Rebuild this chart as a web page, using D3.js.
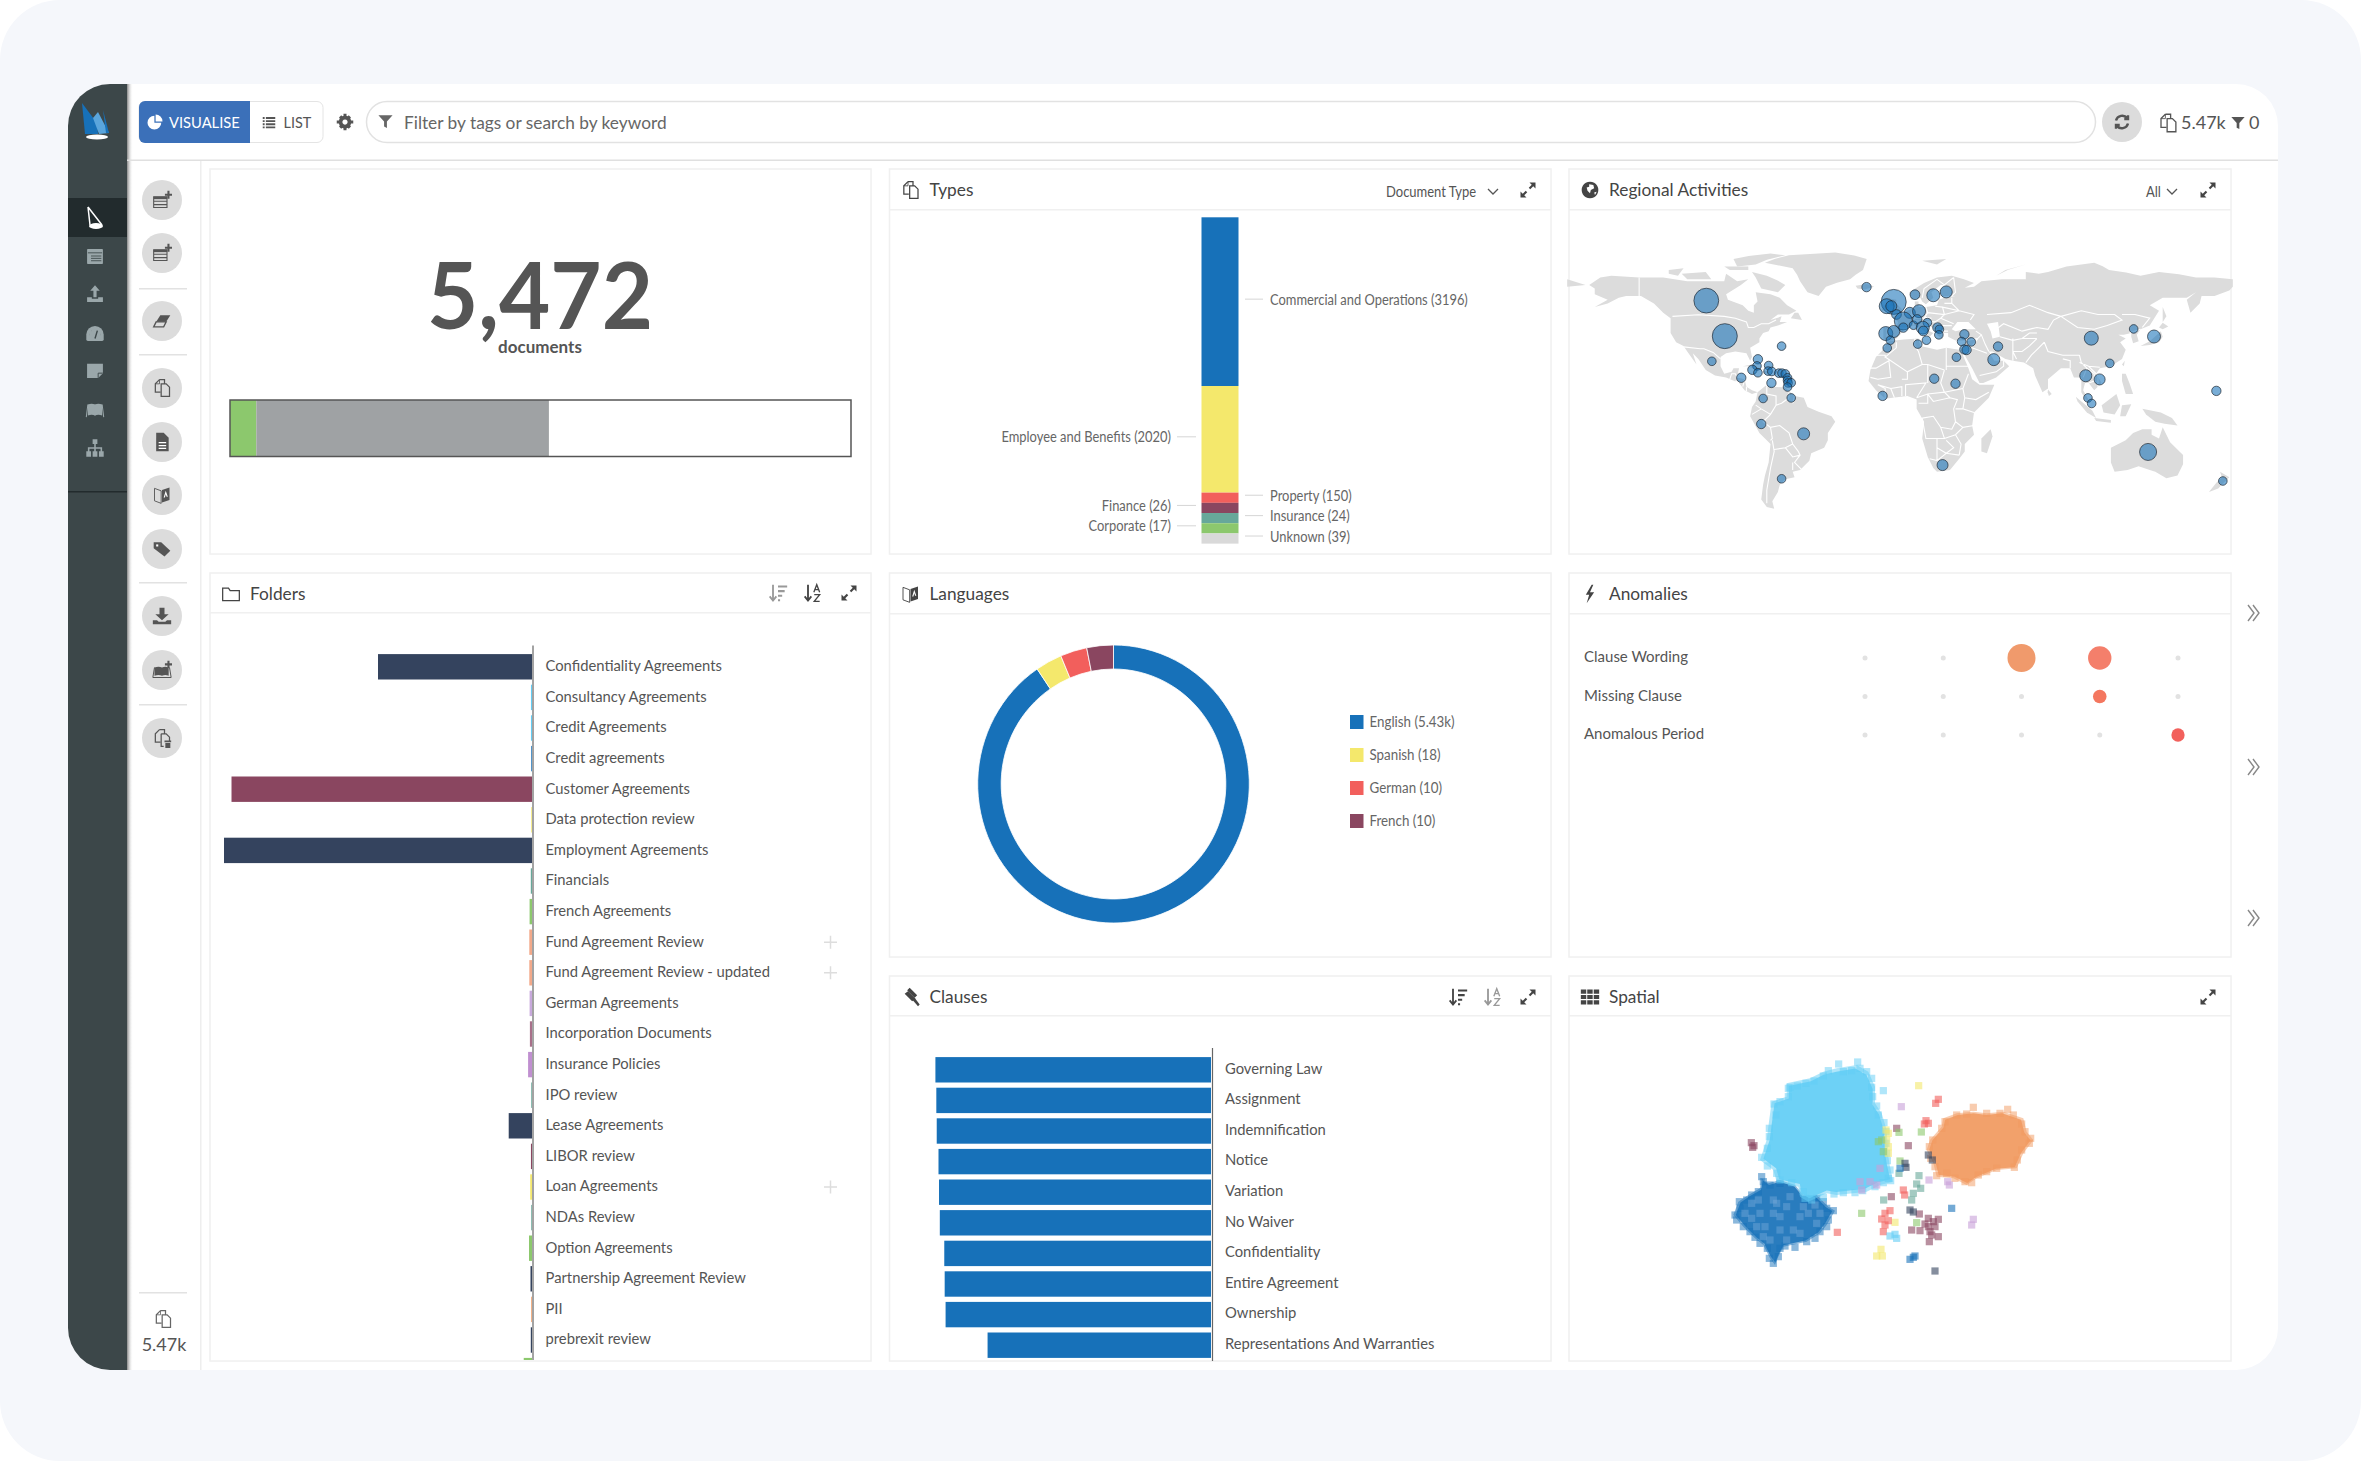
<!DOCTYPE html>
<html lang="en">
<head>
<meta charset="utf-8">
<title>Document dashboard</title>
<script src="https://d3js.org/d3.v7.min.js"></script>
<style>
body { margin: 0; background: #fff; }
text { font-family: Lato, sans-serif; }
</style>
</head>
<body>
<script>
// ---- data ----
var progressValues = [232, 2578];
var progressColors = ["#8cc86d", "#9fa2a4"];

var typeNames = ["Commercial and Operations", "Employee and Benefits", "Property", "Finance", "Insurance", "Corporate", "Unknown"];
var typeCounts = [3196, 2020, 150, 26, 24, 17, 39];
var typeColors = ["#1771b9", "#f4e86c", "#f25f5c", "#8a4660", "#67a89a", "#8cc86d", "#d9d9d9"];
var typeSides = ["right", "left", "right", "left", "right", "left", "right"];

var folderNames = ["Confidentiality Agreements", "Consultancy Agreements", "Credit Agreements", "Credit agreements",
  "Customer Agreements", "Data protection review", "Employment Agreements", "Financials", "French Agreements",
  "Fund Agreement Review", "Fund Agreement Review - updated", "German Agreements", "Incorporation Documents",
  "Insurance Policies", "IPO review", "Lease Agreements", "LIBOR review", "Loan Agreements", "NDAs Review",
  "Option Agreements", "Partnership Agreement Review", "PII", "prebrexit review", ""];
var folderCounts = [1025, 7, 7, 5, 2000, 5, 2050, 8, 16, 18, 18, 16, 14, 26, 5, 155, 7, 12, 5, 20, 10, 5, 8, 55];
var folderColors = ["#34435e", "#62cdf5", "#62cdf5", "#1771b9", "#8a4660", "#f4e86c", "#34435e", "#67a89a", "#8cc86d",
  "#f2a98a", "#f2a98a", "#c8a9dc", "#a8708a", "#c08fd0", "#67a89a", "#34435e", "#8a4660", "#f4e86c", "#67a89a",
  "#8cc86d", "#34435e", "#f1995f", "#34435e", "#8cc86d"];
var folderPlus = ["Fund Agreement Review", "Fund Agreement Review - updated", "Loan Agreements"];

var languageNames = ["English", "Spanish", "German", "French"];
var languageCounts = [5430, 18, 10, 10];
var languageLabels = ["5.43k", "18", "10", "10"];
var languageColors = ["#1771b9", "#f4e86c", "#f25f5c", "#8a4660"];

var anomalyNames = ["Clause Wording", "Missing Clause", "Anomalous Period"];
var anomalyColumns = [0, 1, 2, 3, 4];
var anomalyCounts = [
  [0, 0, 100, 64, 0],
  [0, 0, 0, 14, 0],
  [0, 0, 0, 0, 13]
];
var anomalyColors = [
  ["#e2e2e2", "#e2e2e2", "#f09a6c", "#f47f6b", "#e2e2e2"],
  ["#e2e2e2", "#e2e2e2", "#e2e2e2", "#f4775f", "#e2e2e2"],
  ["#e2e2e2", "#e2e2e2", "#e2e2e2", "#e2e2e2", "#f2605c"]
];

var clauseNames = ["Governing Law", "Assignment", "Indemnification", "Notice", "Variation", "No Waiver", "Confidentiality",
  "Entire Agreement", "Ownership", "Representations And Warranties"];
var clauseCounts = [4818, 4802, 4795, 4764, 4755, 4741, 4663, 4656, 4640, 3906];

// map bubbles: lon, lat, documents
var bubbleLon = [-104.7, -94.7, -18.1, -3.4, -7.2, -4.7, 8.1, 18, 25, -1.9, 5.3, 10.3, 1.8, 1.8, 7.3, 9.3, 14.8, 12.3, 12.6, -7.7,
  -3.4, -5.2, -6.9, 9.6, 14.3, 20.3, 21.3, 21, 34.8, 33.3, 38.5, 34.8, 36, 30.5, 53, 50.7, 18.5, 30, -9.4, -101.7, -64,
  -76.8, -77.3, -79.8, -76.8, -71, -71.3, -69.3, -65.5, -63.8, -62, -60.8, -60.8, -60.5, -58.8, -60.8, -85.8, -69.5,
  -74, -58.8, -75, -52.1, -64, 23, 103.4, 126.3, 137.3, 113.4, 100.4, 107.9, 101.6, 103.6, 171, 134.1, 174.5];
var bubbleLat = [57.5, 38.3, 64.8, 56.8, 54.5, 54.5, 60.7, 60.4, 62.2, 50, 50.9, 51.8, 46.5, 42.9, 44.2, 47.4, 45.6, 42.9, 41.1, 39.7,
  40.8, 36.1, 31.9, 34, 36.1, 42.9, 42, 39, 39.3, 35.4, 35.2, 31.1, 30.8, 26.9, 32.7, 25.6, 15.3, 12.6, 6, 24.7, 32.9,
  25.8, 22.2, 20.1, 18.5, 22.4, 19.4, 19.2, 18.3, 18.3, 17.9, 15.8, 14.4, 13, 13.1, 10.8, 15.8, 13,
  4.6, 4.9, -9.2, -14.5, -38.8, -31.4, 37.2, 42.2, 38.1, 23.6, 16.9, 14.9, 4.9, 1.9, 8.7, -24.3, -40];
var bubbleDocs = [910, 925, 130, 925, 330, 180, 140, 250, 215, 140, 180, 250, 480, 130, 110, 130, 110, 250, 140, 290,
  215, 110, 110, 110, 110, 140, 110, 110, 130, 110, 110, 130, 130, 110, 130, 215, 130, 130, 130, 110, 110,
  130, 110, 130, 110, 110, 110, 110, 110, 110, 110, 110, 110, 110, 110, 110, 130, 130,
  110, 110, 130, 215, 110, 180, 290, 110, 250, 110, 215, 180, 110, 110, 130, 430, 110];

// rough coastlines, lon/lat
var landRings = [
  [[-168,66],[-162,70],[-156,71],[-141,70],[-128,70],[-115,68],[-108,68],[-95,68],[-94,72],[-88,68],[-82,69],[-86,66],[-94,61],[-93,58],[-85,55],[-82,52],[-79,51],[-79,55],[-77,57],[-78,62],[-70,61],[-65,59],[-61,55],[-56,52],[-60,50],[-66,50],[-70,47],[-64,49],[-65,46],[-61,46],[-66,44],[-70,43],[-71,41],[-74,40],[-76,37],[-76,35],[-81,32],[-80,27],[-81,25],[-83,29],[-89,30],[-94,29],[-97,27],[-97,22],[-95,18],[-91,19],[-90,21],[-87,21],[-88,16],[-84,15],[-83,11],[-80,9],[-77,8],[-80,7],[-84,9],[-87,13],[-94,16],[-100,17],[-105,20],[-109,26],[-112,29],[-110,23],[-115,30],[-117,33],[-121,35],[-124,40],[-124,48],[-128,51],[-133,56],[-140,60],[-148,60],[-152,59],[-158,56],[-165,54],[-158,58],[-165,61],[-165,64],[-168,66]],
  [[-80,73],[-72,71],[-62,66],[-66,62],[-75,64],[-78,70]],
  [[-118,72],[-105,73],[-102,69],[-115,69]],
  [[-90,80],[-70,83],[-62,82],[-78,77],[-88,76]],
  [[-125,74],[-117,75],[-120,71],[-125,72]],
  [[-95,76],[-82,76],[-82,74],[-92,74]],
  [[-59,48],[-53,47],[-55,51],[-57,51]],
  [[-73,78],[-60,82],[-35,83.5],[-18,80],[-20,74],[-27,69],[-40,65],[-44,60],[-50,62],[-54,68],[-58,75]],
  [[-24,65.5],[-18,66.5],[-14,65],[-19,63.5],[-23,64]],
  [[-85,22],[-80,23],[-74,20],[-78,20],[-82,22]],
  [[-74,19.5],[-69,19.5],[-69,18.3],[-74,18]],
  [[-77,8],[-72,12],[-68,11],[-62,10.5],[-57,6],[-52,5],[-50,0],[-44,-2.5],[-37,-5],[-35,-8],[-39,-14],[-39,-18],[-41,-22],[-48,-25],[-49,-29],[-54,-34],[-58,-35],[-57,-38],[-62,-39],[-65,-42],[-66,-46],[-69,-51],[-68,-55],[-72,-54],[-75,-50],[-74,-42],[-73,-37],[-71,-30],[-70,-20],[-76,-14],[-81,-5],[-80,0],[-78,3]],
  [[-6,35.5],[10,37],[11,33],[20,31],[25,32],[32,31],[34,28],[37,21],[39,15],[43,12],[51,12],[48,5],[40,-3],[39,-10],[40,-15],[35,-20],[35,-24],[32,-28],[27,-34],[20,-35],[18,-33],[15,-27],[12,-17],[13,-8],[9,-1],[9,4],[4,6],[-4,5],[-8,4.5],[-13,9],[-17,14],[-16,20],[-13,27],[-10,30]],
  [[49,-12],[50,-16],[47,-25],[44,-24],[44,-17]],
  [[-9,37],[-9,43],[-2,43.5],[-1,46],[-4,48.5],[2,51],[6,53],[8,54],[8,57],[10,57],[10,54],[14,54],[20,55],[21,58],[24,59],[30,60],[23,60],[21,63],[25,66],[22,66],[17,62],[18,59],[14,55.5],[12,57],[11,59],[6,58],[5,62],[13,67],[20,70],[28,71],[40,67],[35,64.5],[40,65],[44,68],[55,69],[68,69],[68,73],[75,72],[80,73],[90,76],[105,78],[113,74],[130,71],[140,73],[160,70],[170,70],[179.9,69],[179.9,65],[178,63],[170,60],[163,60],[162,56],[157,51],[155,58],[160,62],[155,59],[142,59],[135,55],[140,52],[135,44],[130,42],[128,39],[129,35.5],[126,34.5],[125,38],[125,40],[121,39],[118,39],[122,37],[119,35],[122,31],[120,26],[114,22],[108,21],[106,18],[109,13],[105,9],[102,13],[100,13],[99,9],[103,2],[101,3],[98,8],[98,16],[94,16],[92,21],[87,21],[80,15],[80,10],[77,8],[73,17],[72,21],[67,24],[61,25],[57,26],[50,30],[48,30],[51,25],[56,25],[59,22],[52,16],[45,13],[43,13],[39,21],[35,28],[34,31],[36,36],[30,36],[26,38],[26,40],[23,40],[23,36.5],[20,39],[19,42],[14,45],[12,44],[16,41],[18,40],[16,38],[12,42],[8,44],[3,43],[0,39],[-2,37],[-5,36]],
  [[-179.9,69],[-170,66],[-179.9,65]],
  [[95,5.5],[104,-2],[106,-6],[101,-3],[96,3]],
  [[109,1],[117,7],[119,1],[116,-4],[110,-3]],
  [[105,-6],[114,-7],[114,-8.5],[106,-7.5]],
  [[119,-5],[120,1],[125,1.5],[122,-5]],
  [[131,-1],[141,-3],[147,-6],[150,-10],[143,-9],[138,-8],[133,-4]],
  [[120,18],[122,18],[124,13],[126,7],[122,7],[120,14]],
  [[80,9.5],[82,7],[80.5,6],[79.8,8]],
  [[130,33],[135,35.5],[140,40],[141,41],[142,38],[140,35],[135,33.5]],
  [[140,43],[142,45.5],[145,43.5],[142,42]],
  [[142,54],[144,49],[142,46],[142,50]],
  [[120,23],[121.5,25],[121,22]],
  [[-5,50],[1,51],[1,53],[-2,56],[-2,58],[-5,58.5],[-5,55],[-3,54],[-5,52]],
  [[-10,52],[-6,52],[-6,55],[-9,55]],
  [[12,79],[25,80],[20,77]],
  [[52,71],[68,77],[57,74]],
  [[114,-22],[122,-18],[126,-14],[131,-12],[136,-12],[136,-15],[140,-17],[142,-11],[146,-19],[153,-26],[153,-31],[150,-37],[144,-38.5],[138,-35],[135,-34],[129,-32],[123,-34],[116,-35],[114,-30]],
  [[173,-35],[178,-38],[175,-41],[172,-44],[167,-46],[171,-41],[174,-38]]
];
var waterRings = [
  [[28,42],[31,46],[37,46],[41,42],[35,42],[30,41]],
  [[47,45],[53,46],[54,38],[50,37],[49,41]]
];
var borderLines = [
  [[-123,49],[-95,49],[-89,48],[-83,46],[-82,43],[-79,43],[-75,45],[-71,45],[-67,47]], [[-141,70],[-141,60]],
  [[-117,32.5],[-108,31.5],[-106,31.5],[-101,29.5],[-97,26]], [[-92,15],[-91,18],[-89,18],[-88,16]], [[-89,14],[-87,13]], [[-84,15],[-85,11]], [[-83,8.5],[-83,11]],
  [[-72,12],[-72,7],[-67,6],[-67,1]], [[-60,8],[-60,5]], [[-57,6],[-58,2]],
  [[-60,5],[-64,2],[-67,1],[-70,-4],[-74,-8],[-70,-11],[-65,-10],[-60,-14],[-58,-20],[-55,-24],[-54,-26],[-57,-30],[-53,-34]],
  [[-78,1],[-75,-1],[-70,-4]], [[-80,-4],[-75,-1]], [[-70,-11],[-69,-17],[-70,-18]], [[-69,-18],[-68,-24],[-70,-33],[-72,-45],[-72,-52]],
  [[-68,-23],[-62,-22],[-58,-20]], [[-62,-22],[-58,-27],[-54,-26]], [[-58,-34],[-58,-30]],
  [[-13,28],[-8,28],[-8,27],[-2,32],[-2,35]], [[8,37],[8,33],[10,30],[12,23]], [[25,32],[25,20]], [[25,22],[37,22]],
  [[-17,21],[-13,21],[-6,25],[-5,16],[-12,15],[-16,16]], [[-8,27],[4,19],[12,23]], [[4,19],[4,15],[1,15]], [[15,23],[15,13]], [[24,20],[22,13],[24,8]],
  [[12,23],[15,23],[24,20]], [[3,6],[3,12],[14,13],[9,5]], [[-8,4.5],[-8,10],[-12,12],[-5,10],[-3,5]], [[1,6],[1,11],[-5,10]],
  [[37,18],[34,10],[35,5],[41,4],[48,8]], [[24,8],[34,10]], [[15,7],[24,8],[27,5],[18,3],[15,7]], [[9,5],[15,7],[15,2],[10,2]],
  [[12,-6],[18,-5],[22,-11],[28,-12],[30,-8],[29,-1],[31,4],[27,5]], [[35,5],[34,-1],[40,-3]], [[30,-8],[34,-11],[40,-10]], [[34,-1],[30,-1]],
  [[12,-6],[14,-17],[24,-17],[22,-11]], [[20,-17],[20,-29],[16,-28]], [[20,-22],[25,-25],[29,-22],[25,-18]], [[24,-17],[30,-15],[34,-11]],
  [[30,-15],[33,-20],[32,-26]], [[20,-29],[25,-25],[32,-26]],
  [[-2,43],[3,42.5]], [[-7,37],[-7,42]], [[2,51],[8,49],[7,44]], [[7,54],[6,50],[8,48],[13,48],[15,51],[14,54]], [[15,51],[24,50],[23,54],[19,54.5]],
  [[7,44],[8,46.5],[13,46.5]], [[13,48.5],[17,48]], [[13,46],[19,46],[22,44],[28,44]], [[19,46],[22,48],[24,50]], [[24,50],[32,52],[40,50],[38,47]],
  [[22,48],[29,45]], [[24,56],[28,56],[28,59]], [[23,54],[32,52]], [[12,59],[13,64],[20,69]], [[20,69],[24,66],[29,70]], [[29,70],[30,62],[28,60]],
  [[26,41],[22,41],[19,42]], [[28,56],[32,52]],
  [[36,36],[42,37],[44,39],[41,41]], [[36,33],[39,33],[42,37]], [[44,39],[46,34],[48,30]], [[35,29],[39,32],[47,29]], [[43,17],[52,19],[56,22],[56,25]],
  [[61,37],[61,25]], [[54,38],[61,36],[66,37],[74,37]], [[61,30],[66,30],[70,33],[74,37]], [[61,30],[63,26]], [[68,24],[71,28],[75,32],[78,35]],
  [[78,35],[80,30],[88,28],[97,28]], [[88,26],[92,25],[92,21]], [[97,28],[98,24],[101,21],[99,16]], [[101,21],[105,18],[105,14],[102,13]],
  [[102,22],[107,17],[107,11]], [[97,24],[102,22],[108,21.5]], [[47,50],[60,51],[70,55],[80,51],[87,49]], [[52,42],[56,45],[66,41],[74,43],[80,42],[83,47],[87,49]],
  [[87,49],[98,52],[107,50],[116,50],[120,47],[112,44],[105,42],[96,43],[87,49]], [[120,50],[127,50],[135,48],[131,43]], [[124,40],[130,42]], [[66,37],[70,40],[74,40]]
];

// spatial clusters. a hull for the dense middle and the squares around it
var darkHull = [[160,645],[175,605],[205,585],[240,565],[245,535],[265,550],[300,540],[345,555],[370,585],[410,585],[445,620],[465,632],[440,675],[420,700],[380,725],[310,740],[295,770],[285,795],[270,775],[250,735],[225,715],[190,680]];
var darkEdge = [[165,645],[180,625],[178,605],[200,600],[215,585],[235,575],[250,545],[245,530],[270,555],[300,550],[375,600],[410,595],[430,605],[440,625],[460,632],[445,660],[440,680],[420,695],[405,715],[380,725],[345,742],[315,738],[300,745],[295,770],[280,790],[268,775],[262,745],[240,730],[225,712],[210,695],[190,680],[170,660]];
var darkSpeck = [[215,610],[240,640],[280,600],[320,620],[255,680],[300,690],[340,690],[385,640],[215,655],[280,640],[330,590],[405,615],[270,720],[360,650],[195,640],[235,600],[300,650],[360,700],[410,670],[250,710],[320,720],[420,640],[230,680],[290,610],[370,620]];
var lightHull = [[320,250],[390,235],[430,215],[470,205],[530,195],[565,215],[585,260],[585,310],[605,340],[620,390],[625,470],[630,500],[640,545],[600,555],[560,575],[470,585],[440,580],[385,605],[360,590],[355,560],[290,545],[280,510],[240,480],[260,420],[265,380],[275,305],[320,290]];
var lightEdge = [[330,262],[352,258],[378,250],[402,243],[430,228],[445,212],[476,192],[490,215],[515,212],[533,186],[540,205],[560,215],[575,235],[575,262],[578,290],[590,318],[595,345],[612,368],[618,395],[618,430],[620,460],[622,482],[630,510],[632,542],[610,548],[585,560],[548,572],[525,578],[490,578],[462,582],[430,592],[395,600],[375,595],[370,575],[335,548],[300,540],[290,520],[262,498],[245,472],[262,445],[268,410],[268,385],[288,345],[282,312],[300,305],[325,290],[325,265],[610,272]];
var orangeHull = [[750,420],[785,380],[790,355],[830,340],[880,335],[920,340],[970,335],[1030,355],[1040,395],[1060,420],[1030,460],[1010,505],[950,510],[890,535],[860,555],[820,535],[770,530],[760,490],[740,450]];
var orangeEdge = [[770,527],[800,520],[825,535],[855,545],[875,548],[895,525],[920,515],[950,505],[1003,502],[1012,480],[1025,450],[1048,430],[1052,415],[1035,395],[1025,372],[1000,345],[983,328],[960,340],[920,340],[880,322],[860,342],[830,345],[795,365],[785,385],[758,420],[748,440],[752,475],[765,500]];
var spatialGroups = [
  ["#8a4660", [[214,428],[222,437],[218,442],[650,385],[685,437],[634,590],[745,655],[775,658],[760,665],[745,680],[765,680],[695,690],[720,692],[750,695],[775,710],[748,725],[755,705],[735,672],[718,642]]],
  ["#f4e86c", [[716,257],[618,390],[625,400],[620,420],[625,440],[625,460],[603,748],[590,768],[607,768],[645,667]]],
  ["#f25f5c", [[775,298],[767,310],[738,362],[745,370],[733,372],[670,570],[674,585],[615,640],[630,632],[605,657],[625,662],[615,675],[610,695],[472,697]]],
  ["#c8a0d8", [[664,320],[747,540],[803,545],[808,555],[880,658],[875,675],[570,545],[590,555],[545,570],[600,505],[540,545]]],
  ["#8cc86d", [[657,397],[724,396],[660,483],[545,640],[710,668],[605,420],[595,425],[610,455]]],
  ["#67a89a", [[717,527],[710,552],[722,565],[700,580],[695,600],[611,600],[657,520]]],
  ["#34435e", [[745,465],[757,480],[675,490],[678,502],[690,630],[700,636],[765,813]]],
  ["#1771b9", [[660,505],[815,625],[700,772],[690,778],[705,768]]],
  ["#62cdf5", [[625,535],[630,708],[650,715],[645,703]]]
];

// ---- little helpers ----
var svg = d3.select("body").append("svg").attr("width", 2361).attr("height", 1461).style("display", "block");
var defs = svg.append("defs");
var shadow = defs.append("linearGradient").attr("id", "sideShadow");
shadow.append("stop").attr("offset", 0).attr("stop-color", "#888");
shadow.append("stop").attr("offset", 1).attr("stop-color", "#fff").attr("stop-opacity", 0);

// the text in the picture is a bit narrower than Lato, so squeeze it horizontally
function squeeze(sel, ratio) {
  sel.each(function() {
    d3.select(this).attr("textLength", this.getComputedTextLength() * ratio).attr("lengthAdjust", "spacingAndGlyphs");
  });
  return sel;
}

function txt(g, x, y, s, size, color, anchor, weight) {
  return g.append("text").attr("x", x).attr("y", y).attr("dy", "0.35em").text(s)
    .attr("font-size", size).attr("fill", color).attr("text-anchor", anchor || "start").attr("font-weight", weight || 400);
}

// icons on a 24x24 box. f = filled, s = stroked, w = white fill
var icons = {
  expand: [{f: "M14 2h8v8l-3-3-4 4-2-2 4-4z"}, {f: "M10 22H2v-8l3 3 4-4 2 2-4 4z"}],
  funnel: [{f: "M2 3h20l-8 9v9l-4-2v-7z"}],
  refresh: [{s: "M4 10a8.5 8.5 0 0 1 15-3M20 3v5h-5M20 14a8.5 8.5 0 0 1-15 3M4 21v-5h5", sw: 3.2}],
  gear: [{s: "M12 6a6 6 0 1 0 .01 0z", sw: 5}, {f: "M10 1h4v4h-4zM10 19h4v4h-4zM1 10h4v4H1zM19 10h4v4h-4zM4 6l3-3 3 3-3 3zM14 18l3-3 3 3-3 3zM4 18l3-3 3 3-3 3zM14 6l3-3 3 3-3 3z"}],
  docPlus: [{s: "M2 8h16v13H2zM2 13.5h16M2 17.5h16", sw: 1.3}, {f: "M2 8h16v3H2z"}, {f: "M18.5 1h2.5v3.5h3V7h-3v3.5h-2.5V7h-3V4.5h3z"}],
  eraser: [{f: "M10 5h12l-5 8H5z"}, {s: "M5 13h12l-3 6H2zM5 13l-3 6", sw: 1.6}],
  copies: [{s: "M9 2h6v5M9 2L4 7v10h6M11 7h6l4 4v11H11z", sw: 1.5}, {s: "M9 2v5H4", sw: 1}],
  file: [{f: "M5 1h9l6 6v16H5z"}, {w: "M8 12h9v1.5H8zM8 15.5h9V17H8zM8 19h9v1.5H8z"}],
  translate: [{s: "M3 4l8 3v15l-8-3z", sw: 1.1}, {f: "M12 6l9-3v15l-9 3z"}, {w: "M14 15l2.5-8 2.5 7h-1.5l-1-3-1 4z"}],
  tags: [{f: "M2 4h9l11 10-7 7L2 11z"}, {w: "M5 6.5h2.5V9H5z"}],
  download: [{f: "M9 2h6v8h5l-8 7-8-7h5zM1 17h5l2 2h8l2-2h5v5H1z"}],
  bookPlus: [{f: "M3 9q5-2 9 0q4-2 8 0v10q-4-2-8 0q-4-2-9 0z"}, {s: "M1 21l2-12M23 21l-2-12M1 21h22", sw: 1.2}, {f: "M18.5 1h2.5v3h3v2.5h-3v3h-2.5v-3h-3V4h3z"}],
  copiesBin: [{s: "M9 2h6v5M9 2L4 7v10h6M11 7h6l4 4v5M11 7v15h3", sw: 1.5}, {f: "M15 15h8v2h-8zM16 18h6v6h-6z"}],
  folder: [{s: "M2 5h7l2 3h11v12H2z", sw: 1.5}],
  globe: [{f: "M12 2a10 10 0 1 0 .01 0z"}, {w: "M11 5l5 1 1 4-4 2-1 4-3-3-1-4 3-1zM17 15l3-1-2 4z"}],
  bolt: [{f: "M14 1L7 13h4L8 23l9-13h-5l4-9z"}],
  gavel: [{f: "M11 1l9 9-3 3-9-9zM9 5l9 9-4 3-9-9z"}, {f: "M14 15l3-2 6 8-2 2z"}],
  grid: [{f: "M1 3h6.5v5H1zM8.7 3h6.5v5H8.7zM16.5 3H23v5h-6.5zM1 9.5h6.5v5H1zM8.7 9.5h6.5v5H8.7zM16.5 9.5H23v5h-6.5zM1 16h6.5v5H1zM8.7 16h6.5v5H8.7zM16.5 16H23v5h-6.5z"}],
  sortNum: [{s: "M6 2v18M2 16l4 5 4-5", sw: 2.2}, {f: "M12 3h11v2.5H12zM12 8.5h8V11h-8zM12 14h5v2.5h-5zM12 19.5h2.5V22H12z"}],
  sortAz: [{s: "M6 2v18M2 16l4 5 4-5", sw: 2.2}, {s: "M13 11l3.5-9 3.5 9M14 8h5M13.5 14H20l-6.5 8H20", sw: 1.6}],
  lines: [{f: "M2 4h3v3H2zM7 4h15v3H7zM2 9h3v3H2zM7 9h15v3H7zM2 14h3v3H2zM7 14h15v3H7zM2 19h3v3H2zM7 19h15v3H7z"}],
  pie: [{f: "M11 2v11h11A11 11 0 1 1 11 2zM13 0a11 11 0 0 1 11 11H13z"}],
  panel: [{f: "M2 4q0-1 1-1h18q1 0 1 1v17q0 1-1 1H3q-1 0-1-1z"}, {s: "M3 8h18M7 12h13M7 15h13M7 18h13", sw: 1.1, c: "#3c4749"}],
  upload: [{f: "M12 1l6 7h-4v8h-4V8H6zM2 16h6v2h8v-2h6v6H2z"}],
  gauge: [{f: "M1 14a11 11 0 1 1 22 0v6q0 2-2 2H3q-2 0-2-2z"}, {s: "M12 19l3-10M5 14h.1M8 9h.1M19 14h.1", sw: 1.8, c: "#3c4749"}],
  note: [{f: "M2 4h20v12l-6 6H2z"}, {s: "M16 22v-6h6", sw: 1.2, c: "#3c4749"}],
  book: [{f: "M3 5q5-2 9 0q4-2 9 0v14q-5-2-9 0q-4-2-9 0z"}, {s: "M1 21L3 5M23 21L21 5M12 5v14", sw: 1.3}],
  org: [{f: "M9 1h6v6H9zM11 7h2v4h-2zM3 11h18v2H3zM3 13h2v3H3zM11 13h2v3h-2zM19 13h2v3h-2zM1 16h6v7H1zM9 16h6v7H9zM17 16h6v7h-6z"}]
};

function icon(g, name, cx, cy, size, color) {
  var box = g.append("g").attr("transform", "translate(" + (cx - size / 2) + "," + (cy - size / 2) + ") scale(" + (size / 24) + ")");
  icons[name].forEach(function(p) {
    if (p.f) box.append("path").attr("d", p.f).attr("fill", color);
    if (p.w) box.append("path").attr("d", p.w).attr("fill", "#fff");
    if (p.s) box.append("path").attr("d", p.s).attr("fill", "none").attr("stroke", p.c || color).attr("stroke-width", p.sw);
  });
}

// ---- page frame ----
svg.append("rect").attr("width", 2361).attr("height", 1461).attr("rx", 60).attr("fill", "#f5f7fb");
svg.append("rect").attr("x", 68).attr("y", 84).attr("width", 2210).attr("height", 1286).attr("rx", 42).attr("fill", "#fff");
svg.append("rect").attr("x", 127).attr("y", 84).attr("width", 6).attr("height", 1286).attr("fill", "url(#sideShadow)");
svg.append("path").attr("d", "M127 84H110a42 42 0 0 0-42 42V1328a42 42 0 0 0 42 42H127z").attr("fill", "#3c4749");
svg.append("rect").attr("x", 68).attr("y", 198).attr("width", 59).attr("height", 39).attr("fill", "#222b2d");
svg.append("rect").attr("x", 68).attr("y", 491).attr("width", 59).attr("height", 1.5).attr("fill", "#222b2d");

// logo
svg.append("path").attr("d", "M82 103L97 123L98 134H85z").attr("fill", "#1771b9");
svg.append("path").attr("d", "M98 112L109 133L99 134L93 118z").attr("fill", "#5aa5dc");
svg.append("path").attr("d", "M103 110L109 133L106 133z").attr("fill", "#1771b9");
svg.append("ellipse").attr("cx", 97).attr("cy", 137).attr("rx", 11).attr("ry", 2.5).attr("fill", "#fff");
// active item
svg.append("path").attr("d", "M88 207L102 225M88 207L90 225").attr("stroke", "#fff").attr("stroke-width", 1.5).attr("fill", "none");
svg.append("ellipse").attr("cx", 96).attr("cy", 226).attr("rx", 7).attr("ry", 3).attr("fill", "#fff");

var sideIcons = ["panel", "upload", "gauge", "note", "book", "org"];
var sideIconY = [256, 294, 333, 370, 410, 448];
sideIcons.forEach(function(n, i) { icon(svg, n, 95, sideIconY[i], 19, "#9aa7aa"); });

// toolbar
svg.append("rect").attr("x", 127).attr("y", 159.5).attr("width", 2151).attr("height", 1.5).attr("fill", "#e0e0e0");
svg.append("rect").attr("x", 200).attr("y", 161).attr("width", 1.5).attr("height", 1209).attr("fill", "#eeeeee");
svg.append("rect").attr("x", 139).attr("y", 101.5).attr("width", 184).attr("height", 41).attr("rx", 6).attr("fill", "#fff").attr("stroke", "#e4e4e4");
svg.append("path").attr("d", "M250 101H145a6 6 0 0 0-6 6V137a6 6 0 0 0 6 6H250z").attr("fill", "#3b70b9");
icon(svg, "pie", 155, 122, 15, "#fff");
squeeze(txt(svg, 169, 122, "VISUALISE", 16, "#fff"), 0.92);
icon(svg, "lines", 269, 122, 15, "#555");
squeeze(txt(svg, 283.5, 122, "LIST", 16, "#555"), 0.9);
icon(svg, "gear", 345, 122, 18, "#555");
svg.append("rect").attr("x", 366.5).attr("y", 101.5).attr("width", 1729).attr("height", 41).attr("rx", 20.5).attr("fill", "#fff").attr("stroke", "#e2e2e2").attr("stroke-width", 1.5);
icon(svg, "funnel", 385.5, 121.5, 17, "#666");
squeeze(txt(svg, 404, 123, "Filter by tags or search by keyword", 18, "#666"), 0.96);
svg.append("circle").attr("cx", 2122).attr("cy", 122).attr("r", 20).attr("fill", "#dcdcdc");
icon(svg, "refresh", 2122, 122, 18, "#555");
icon(svg, "copies", 2168, 123, 21, "#555");
txt(svg, 2181, 122.5, "5.47k", 18, "#555");
icon(svg, "funnel", 2238, 123, 16, "#555");
txt(svg, 2249, 122.5, "0", 18, "#555");

// left tool column
var toolIcons = ["docPlus", "docPlus", "eraser", "copies", "file", "translate", "tags", "download", "bookPlus", "copiesBin"];
var toolY = [200, 253, 321, 388, 442, 495, 549, 616, 670, 738];
toolIcons.forEach(function(n, i) {
  svg.append("circle").attr("cx", 162).attr("cy", toolY[i]).attr("r", 20).attr("fill", "#dcdcdc");
  icon(svg, n, 162, toolY[i], 20, "#555");
});
[288, 354, 582, 704, 1292].forEach(function(y) {
  svg.append("rect").attr("x", 139).attr("y", y).attr("width", 48).attr("height", 1.5).attr("fill", "#e2e2e2");
});
icon(svg, "copies", 163, 1319, 20, "#666");
txt(svg, 164, 1345, "5.47k", 18, "#555", "middle");

// chevrons at the far right
[613, 767, 918].forEach(function(y) {
  svg.append("path").attr("d", "M" + 2248 + " " + (y - 8) + "l6 8l-6 8M" + 2253 + " " + (y - 8) + "l6 8l-6 8")
    .attr("fill", "none").attr("stroke", "#888").attr("stroke-width", 1.4);
});

// ---- panels ----
function panel(x, y, w, h, title, iconName, headerH) {
  svg.append("rect").attr("x", x).attr("y", y).attr("width", w).attr("height", h).attr("fill", "#fff").attr("stroke", "#f0f0f0").attr("stroke-width", 1.5);
  if (!title) return;
  svg.append("rect").attr("x", x).attr("y", y + headerH).attr("width", w).attr("height", 1.5).attr("fill", "#f0f0f0");
  icon(svg, iconName, x + 21, y + 21, 20, "#444");
  squeeze(txt(svg, x + 40, y + 20.5, title, 18, "#444"), 0.96);
}
var colX = [210, 889.5, 1569], colW = [661, 661.5, 662];
panel(colX[0], 169, colW[0], 385);
panel(colX[1], 169, colW[1], 385, "Types", "copies", 40);
panel(colX[2], 169, colW[2], 385, "Regional Activities", "globe", 40);
panel(colX[0], 573, colW[0], 788, "Folders", "folder", 39);
panel(colX[1], 573, colW[1], 384, "Languages", "translate", 40);
panel(colX[2], 573, colW[2], 384, "Anomalies", "bolt", 40);
panel(colX[1], 976, colW[1], 385, "Clauses", "gavel", 39);
panel(colX[2], 976, colW[2], 385, "Spatial", "grid", 39);

// header controls
squeeze(txt(svg, 1386, 192, "Document Type", 15, "#555"), 0.865);
svg.append("path").attr("d", "M1488 189l5 5l5-5").attr("fill", "none").attr("stroke", "#555").attr("stroke-width", 1.3);
squeeze(txt(svg, 2146, 192, "All", 15, "#555"), 0.865);
svg.append("path").attr("d", "M2167 189l5 5l5-5").attr("fill", "none").attr("stroke", "#555").attr("stroke-width", 1.3);
[[1528, 190], [2208, 190], [849, 593], [1528, 997], [2208, 997]].forEach(function(p) { icon(svg, "expand", p[0], p[1], 18, "#444"); });
icon(svg, "sortNum", 778, 593, 20, "#999");
icon(svg, "sortAz", 813, 593, 20, "#444");
icon(svg, "sortNum", 1458, 997, 20, "#444");
icon(svg, "sortAz", 1493, 997, 20, "#999");

// ---- total ----
txt(svg, 540, 297, "5,472", 92, "#555", "middle", 700).attr("textLength", 226).attr("lengthAdjust", "spacingAndGlyphs");
txt(svg, 540, 347, "documents", 17, "#555", "middle", 700);

var progressX = d3.scaleLinear().domain([0, 5472]).range([230, 851]);
var progressTop = d3.cumsum([0].concat(progressValues));
svg.append("g").selectAll("rect").data(progressValues).join("rect")
  .attr("x", function(d, i) { return progressX(progressTop[i]); })
  .attr("width", function(d) { return progressX(d) - progressX(0); })
  .attr("y", 400).attr("height", 57).attr("fill", function(d, i) { return progressColors[i]; });
svg.append("rect").attr("x", 230).attr("y", 400).attr("width", 621).attr("height", 56.5).attr("fill", "none").attr("stroke", "#555").attr("stroke-width", 1.5);

// ---- types stack, small types get a minimum height ----
var typeH = d3.scaleLinear().domain([0, 3196]).range([0, 168.7]);
var typeHeights = typeCounts.map(function(d) { return Math.max(typeH(d), 10.2); });
var typeTops = d3.cumsum([217.3].concat(typeHeights));
var types = svg.append("g").selectAll("g").data(typeNames).join("g");
types.append("rect").attr("x", 1201.5).attr("width", 37)
  .attr("y", function(d, i) { return typeTops[i]; })
  .attr("height", function(d, i) { return typeHeights[i]; })
  .attr("fill", function(d, i) { return typeColors[i]; });
types.append("line")
  .attr("x1", function(d, i) { return typeSides[i] == "right" ? 1245 : 1177; })
  .attr("x2", function(d, i) { return typeSides[i] == "right" ? 1263 : 1196; })
  .attr("y1", function(d, i) { return typeTops[i] + typeHeights[i] / 2 - 2.5; })
  .attr("y2", function(d, i) { return typeTops[i] + typeHeights[i] / 2 - 2.5; })
  .attr("stroke", "#d5d5d5");
squeeze(types.append("text")
  .attr("x", function(d, i) { return typeSides[i] == "right" ? 1270 : 1171; })
  .attr("y", function(d, i) { return typeTops[i] + typeHeights[i] / 2 - 2; })
  .attr("dy", "0.35em")
  .attr("text-anchor", function(d, i) { return typeSides[i] == "right" ? "start" : "end"; })
  .attr("font-size", 14.5).attr("fill", "#666")
  .text(function(d, i) { return d + " (" + typeCounts[i] + ")"; }), 0.89);

// ---- world map ----
function ring(r) {
  var closed = r.concat([r[0]]);
  var poly = {type: "Polygon", coordinates: [closed]};
  if (d3.geoArea(poly) > 2 * Math.PI) poly.coordinates = [closed.slice().reverse()];
  return poly;
}
var projection = d3.geoEquirectangular().scale(106).translate([1900, 407]).precision(0.5);
var geoPath = d3.geoPath(projection);
var map = svg.append("g");
map.selectAll("path.land").data(landRings.map(ring)).join("path").attr("class", "land").attr("d", geoPath).attr("fill", "#dcdcdc");
map.selectAll("path.water").data(waterRings.map(ring)).join("path").attr("class", "water").attr("d", geoPath).attr("fill", "#fff");
map.append("path").datum({type: "MultiLineString", coordinates: borderLines}).attr("d", geoPath)
  .attr("fill", "none").attr("stroke", "#fff").attr("stroke-width", 1.1);

var bubbleR = d3.scaleSqrt().domain([0, 925]).range([0, 12.5]);
map.append("g").selectAll("circle").data(bubbleDocs).join("circle")
  .attr("cx", function(d, i) { return projection([bubbleLon[i], bubbleLat[i]])[0]; })
  .attr("cy", function(d, i) { return projection([bubbleLon[i], bubbleLat[i]])[1]; })
  .attr("r", function(d) { return bubbleR(d); })
  .attr("fill", "#1771b9").attr("fill-opacity", 0.58).attr("stroke", "#1c2530").attr("stroke-opacity", 0.75).attr("stroke-width", 0.9);

// ---- folders ----
defs.append("clipPath").attr("id", "foldersClip").append("rect").attr("x", 210).attr("y", 613).attr("width", 661).attr("height", 747);
var folders = svg.append("g").attr("clip-path", "url(#foldersClip)");
var folderY = d3.scaleBand().domain(folderNames).range([651.5, 1385.9]).paddingInner(0.17).paddingOuter(0.085);
var folderX = d3.scaleLinear().domain([0, 2050]).range([0, 308]);
folders.append("g").selectAll("rect").data(folderCounts).join("rect")
  .attr("x", function(d) { return 532 - folderX(d); })
  .attr("width", function(d) { return folderX(d); })
  .attr("y", function(d, i) { return folderY(folderNames[i]); })
  .attr("height", folderY.bandwidth())
  .attr("fill", function(d, i) { return folderColors[i]; });
var folderAxis = folders.append("g").attr("transform", "translate(533,0)").call(d3.axisRight(folderY).tickSize(0).tickPadding(12.5));
folderAxis.select(".domain").remove();
folderAxis.selectAll("text").attr("font-family", "Lato, sans-serif").attr("font-size", 15).attr("fill", "#555").attr("y", -0.5);
squeeze(folderAxis.selectAll("text"), 0.985);
folders.append("line").attr("x1", 533).attr("x2", 533).attr("y1", 645.5).attr("y2", 1360).attr("stroke", "#666").attr("stroke-width", 1.2);
folderPlus.forEach(function(n) {
  var y = folderY(n) + folderY.bandwidth() / 2;
  folders.append("path").attr("d", "M824 " + y + "h13M830.5 " + (y - 6.5) + "v13").attr("stroke", "#ddd").attr("stroke-width", 1.5);
});

// ---- languages donut, small languages get a minimum slice ----
var pie = d3.pie().sort(null).value(function(d) { return Math.max(d, 190); });
var arc = d3.arc().innerRadius(115).outerRadius(139);
svg.append("g").attr("transform", "translate(1113.5,784) scale(0.977,1)")
  .selectAll("path").data(pie(languageCounts)).join("path")
  .attr("d", arc).attr("fill", function(d, i) { return languageColors[i]; }).attr("stroke", "#fff").attr("stroke-width", 0.8);
var legendY = d3.scalePoint().domain(languageNames).range([722, 821]);
var legend = svg.append("g").selectAll("g").data(languageNames).join("g")
  .attr("transform", function(d) { return "translate(1350," + legendY(d) + ")"; });
legend.append("rect").attr("y", -7).attr("width", 13.5).attr("height", 14).attr("fill", function(d, i) { return languageColors[i]; });
squeeze(legend.append("text").attr("x", 19.5).attr("dy", "0.35em").attr("font-size", 14.5).attr("fill", "#666")
  .text(function(d, i) { return d + " (" + languageLabels[i] + ")"; }), 0.92);

// ---- anomalies ----
var anomalyX = d3.scalePoint().domain(anomalyColumns).range([1865, 2178]);
var anomalyY = d3.scalePoint().domain(anomalyNames).range([658, 735]);
var anomalyR = d3.scaleSqrt().domain([0, 100]).range([2.5, 14]);
anomalyNames.forEach(function(name, r) {
  txt(svg, 1584, anomalyY(name) - 1, name, 15, "#555");
  svg.append("g").selectAll("circle").data(anomalyCounts[r]).join("circle")
    .attr("cx", function(d, c) { return anomalyX(c); })
    .attr("cy", anomalyY(name))
    .attr("r", function(d) { return anomalyR(d); })
    .attr("fill", function(d, c) { return anomalyColors[r][c]; });
});

// ---- clauses ----
var clauseY = d3.scaleBand().domain(clauseNames).range([1054.5, 1360.5]).paddingInner(0.17).paddingOuter(0.085);
var clauseX = d3.scaleLinear().domain([0, 5472]).range([0, 313]);
svg.append("g").selectAll("rect").data(clauseCounts).join("rect")
  .attr("x", function(d) { return 1211 - clauseX(d); })
  .attr("width", function(d) { return clauseX(d); })
  .attr("y", function(d, i) { return clauseY(clauseNames[i]); })
  .attr("height", clauseY.bandwidth())
  .attr("fill", "#1771b9");
var clauseAxis = svg.append("g").attr("transform", "translate(1212.5,0)").call(d3.axisRight(clauseY).tickSize(0).tickPadding(12.5));
clauseAxis.select(".domain").remove();
clauseAxis.selectAll("text").attr("font-family", "Lato, sans-serif").attr("font-size", 15).attr("fill", "#555").attr("y", -1);
squeeze(clauseAxis.selectAll("text"), 0.985);
svg.append("line").attr("x1", 1212.5).attr("x2", 1212.5).attr("y1", 1048).attr("y2", 1361).attr("stroke", "#666").attr("stroke-width", 1.2);

// ---- spatial ----
var spatialX = d3.scaleLinear().domain([0, 1260]).range([1680, 2100]);
var spatialY = d3.scaleLinear().domain([0, 960]).range([1000, 1320]);
var hullLine = d3.line().x(function(d) { return spatialX(d[0]); }).y(function(d) { return spatialY(d[1]); }).curve(d3.curveLinearClosed);
var spatial = svg.append("g");
function squares(pts, color, opacity) {
  spatial.append("g").selectAll("rect").data(pts).join("rect")
    .attr("x", function(d) { return spatialX(d[0]) - 3.6; })
    .attr("y", function(d) { return spatialY(d[1]) - 3.6; })
    .attr("width", 7.2).attr("height", 7.2)
    .attr("fill", color).attr("fill-opacity", opacity);
}
// pale rim from the hull, solid middle from the same hull drawn a bit smaller
function cluster(hull, edge, color) {
  var c = d3.polygonCentroid(hull);
  var core = hull.map(function(p) { return [c[0] + (p[0] - c[0]) * 0.95, c[1] + (p[1] - c[1]) * 0.95]; });
  spatial.append("path").attr("d", hullLine(hull)).attr("fill", color).attr("fill-opacity", 0.5);
  spatial.append("path").attr("d", hullLine(core)).attr("fill", color).attr("fill-opacity", 0.85);
  squares(edge, color, 0.5);
}
cluster(darkHull, darkEdge, "#1771b9");
squares(darkSpeck, "#7fb0dc", 0.4);
cluster(lightHull, lightEdge, "#62cdf5");
cluster(orangeHull, orangeEdge, "#f1995f");
spatialGroups.forEach(function(g) { squares(g[1], g[0], 0.6); });
</script>
</body>
</html>
